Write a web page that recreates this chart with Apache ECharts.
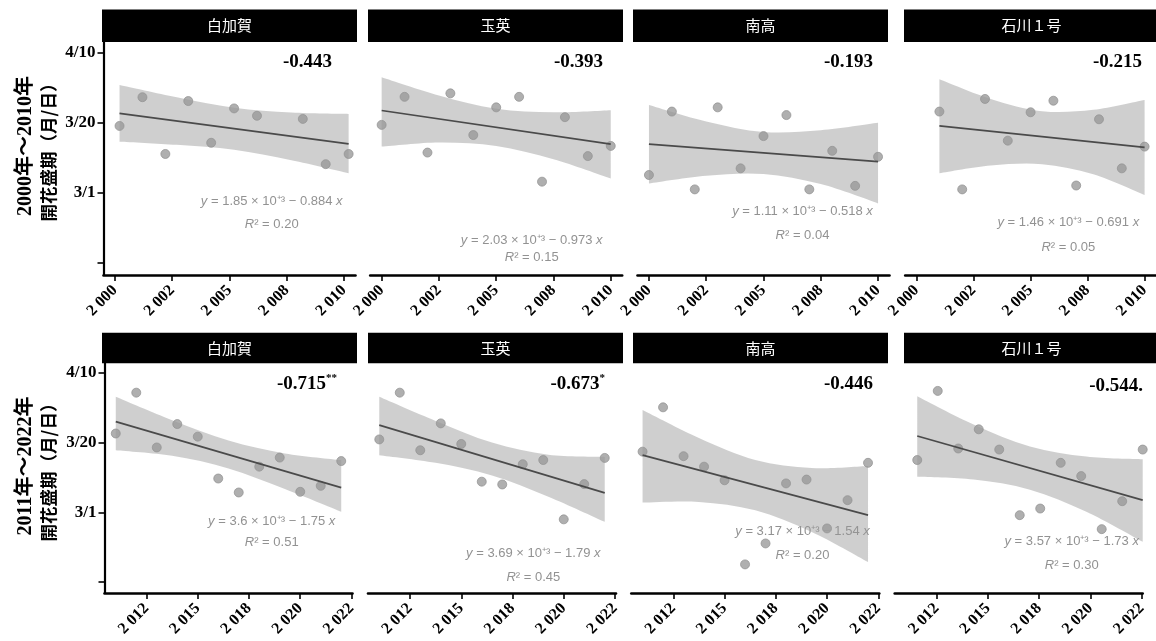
<!DOCTYPE html>
<html><head><meta charset="utf-8">
<script src="https://cdn.jsdelivr.net/npm/echarts@6/dist/echarts.min.js"></script>
<style>html,body{margin:0;padding:0;background:#fff}#c{width:1156px;height:641px}</style>
</head><body><div id="c"></div>
<script>
// ---------- labels ----------
const varieties = ['白加賀', '玉英', '南高', '石川１号'];
const periodTitles = ['2000年～2010年', '2011年～2022年'];
const yAxisSubtitle = '開花盛期（月/日）';
const yTickValues = [40, 60, 80, 100];
const yTickLabels = ['', '3/1', '3/20', '4/10'];
const xTickValuesEarly = [2000, 2002.5, 2005, 2007.5, 2010];
const xTickLabelsEarly = ['2 000', '2 002', '2 005', '2 008', '2 010'];
const xTickValuesLate = [2012.5, 2015, 2017.5, 2020, 2022.5];
const xTickLabelsLate = ['2 012', '2 015', '2 018', '2 020', '2 022'];

// ---------- 2000–2010 : points (x = year position, y = day of year) ----------
const xE_shirokaga = [2000.2, 2001.2, 2002.2, 2003.2, 2004.2, 2005.2, 2006.2, 2008.2, 2009.2, 2010.2];
const yE_shirokaga = [79.1, 87.3, 71.1, 86.2, 74.3, 84.1, 82.0, 81.1, 68.2, 71.1];
const xE_gyokuei = [2000, 2001, 2002, 2003, 2004, 2005, 2006, 2007, 2008, 2009, 2010];
const yE_gyokuei = [79.4, 87.4, 71.5, 88.4, 76.5, 84.4, 87.4, 63.2, 81.6, 70.5, 73.4];
const xE_nanko = [2000, 2001, 2002, 2003, 2004, 2005, 2006, 2007, 2008, 2009, 2010];
const yE_nanko = [65.1, 83.2, 61.0, 84.4, 67.0, 76.2, 82.2, 61.0, 72.0, 62.0, 70.3];
const xE_ishikawa = [2001, 2002, 2003, 2004, 2005, 2006, 2007, 2008, 2009, 2010];
const yE_ishikawa = [83.2, 61.0, 86.8, 74.9, 83.0, 86.3, 62.1, 81.0, 67.0, 73.2];

// ---------- 2011–2022 : points ----------
const xL_shirokaga = [2011, 2012, 2013, 2014, 2015, 2016, 2017, 2018, 2019, 2020, 2021, 2022];
const yL_shirokaga = [82.6, 94.3, 78.6, 85.3, 81.7, 69.7, 65.7, 73.1, 75.7, 65.9, 67.6, 74.7];
const xL_gyokuei = [2011, 2012, 2013, 2014, 2015, 2016, 2017, 2018, 2019, 2020, 2021, 2022];
const yL_gyokuei = [80.9, 94.3, 77.8, 85.5, 79.6, 68.8, 68.0, 73.8, 75.0, 58.0, 68.1, 75.6];
const xL_nanko = [2011, 2012, 2013, 2014, 2015, 2016, 2017, 2018, 2019, 2020, 2021, 2022];
const yL_nanko = [77.4, 90.1, 76.1, 73.1, 69.2, 45.1, 51.1, 68.3, 69.4, 55.4, 63.5, 74.2];
const xL_ishikawa = [2011.55, 2012.55, 2013.55, 2014.55, 2015.55, 2016.55, 2017.55, 2018.55, 2019.55, 2020.55, 2021.55, 2022.55];
const yL_ishikawa = [75.0, 94.8, 78.3, 83.8, 78.0, 59.2, 61.1, 74.2, 70.4, 55.2, 63.2, 78.0];

// ---------- fitted lines (end points) ----------
const fitXE_shirokaga = [2000.2, 2010.2], fitYE_shirokaga = [82.7, 74.0];
const fitXE_gyokuei = [2000, 2010], fitYE_gyokuei = [83.5, 73.9];
const fitXE_nanko = [2000, 2010], fitYE_nanko = [73.9, 68.9];
const fitXE_ishikawa = [2001, 2010], fitYE_ishikawa = [79.1, 73.0];
const fitXL_shirokaga = [2011, 2022], fitYL_shirokaga = [86.0, 67.1];
const fitXL_gyokuei = [2011, 2022], fitYL_gyokuei = [85.0, 65.6];
const fitXL_nanko = [2011, 2022], fitYL_nanko = [76.4, 59.2];
const fitXL_ishikawa = [2011.55, 2022.55], fitYL_ishikawa = [81.9, 63.5];

// ---------- confidence bands ----------
const bandXE_shirokaga = [2000.2, 2002.7, 2005.2, 2007.7, 2010.2];
const bandHiE_shirokaga = [90.8, 87.3, 84.3, 82.9, 82.5];
const bandLoE_shirokaga = [74.6, 73.7, 72.3, 69.3, 65.6];
const bandXE_gyokuei = [2000, 2002.5, 2005, 2007.5, 2010];
const bandHiE_gyokuei = [93.0, 87.8, 84.0, 83.0, 83.6];
const bandLoE_gyokuei = [73.2, 74.4, 73.4, 69.6, 64.1];
const bandXE_nanko = [2000, 2002.5, 2005, 2007.5, 2010];
const bandHiE_nanko = [85.1, 80.4, 77.4, 77.9, 80.0];
const bandLoE_nanko = [62.7, 64.9, 65.4, 62.5, 57.0];
const bandXE_ishikawa = [2001, 2003.25, 2005.5, 2007.75, 2010];
const bandHiE_ishikawa = [92.4, 86.8, 83.3, 83.7, 86.5];
const bandLoE_ishikawa = [65.6, 67.8, 68.2, 65.3, 59.4];
const bandXL_shirokaga = [2011, 2013.75, 2016.5, 2019.25, 2022];
const bandHiL_shirokaga = [93.1, 86.4, 80.6, 76.9, 75.0];
const bandLoL_shirokaga = [77.8, 76.2, 72.6, 66.7, 60.2];
const bandXL_gyokuei = [2011, 2013.75, 2016.5, 2019.25, 2022];
const bandHiL_gyokuei = [93.1, 86.2, 80.0, 76.5, 75.9];
const bandLoL_gyokuei = [76.4, 74.2, 70.6, 64.5, 57.3];
const bandXL_nanko = [2011, 2013.75, 2016.5, 2019.25, 2022];
const bandHiL_nanko = [89.3, 81.3, 75.0, 72.7, 73.3];
const bandLoL_nanko = [62.8, 63.0, 60.6, 54.4, 45.8];
const bandXL_ishikawa = [2011.55, 2014.3, 2017.05, 2019.8, 2022.55];
const bandHiL_ishikawa = [93.3, 85.2, 78.9, 76.0, 75.2];
const bandLoL_ishikawa = [70.2, 69.4, 66.5, 60.2, 51.6];

// ---------- annotation texts ----------
const corrValues = ['-0.443', '-0.393', '-0.193', '-0.215', '-0.715', '-0.673', '-0.446', '-0.544.'];
const corrStars = ['', '', '', '', '**', '*', '', ''];
const eqIntercepts = ['1.85', '2.03', '1.11', '1.46', '3.6', '3.69', '3.17', '3.57'];
const eqSlopes = ['0.884', '0.973', '0.518', '0.691', '1.75', '1.79', '1.54', '1.73'];
const r2Values = ['0.20', '0.15', '0.04', '0.05', '0.51', '0.45', '0.20', '0.30'];

// ---------- layout ----------
const rows = [
  { top: 42, height: 233, lefts: [103.5, 370.2, 637.5, 905.2], width: 252, xMin: 1999.5, xMax: 2010.5,
    yMin: 36.57, yMax: 103.05, ticks: xTickValuesEarly, labels: xTickLabelsEarly, headerTop: 9.5, headerH: 32.5, titleY: 146 },
  { top: 363, height: 230, lefts: [104.5, 368, 631.3, 894.7], width: 248, xMin: 2010.45, xMax: 2022.55,
    yMin: 36.9, yMax: 102.8, ticks: xTickValuesLate, labels: xTickLabelsLate, headerTop: 332.7, headerH: 30.6, titleY: 466 }
];
const headerLefts = [102, 368, 633, 904];
const headerWidth = 255;
const corrPos = [[332, 62], [603, 62], [873, 62], [1142, 62], [337, 384], [605, 384], [873, 384], [1143, 386]];
const eqPos = [[271.7, 201.7, 224], [531.7, 240, 257.3], [802.5, 211.7, 235], [1068.3, 222.7, 247.3],
               [271.7, 521.7, 542.7], [533.3, 553.3, 577.3], [802.5, 531.7, 555], [1071.7, 541.7, 565]];

const panelData = [
  [xE_shirokaga, yE_shirokaga, fitXE_shirokaga, fitYE_shirokaga, bandXE_shirokaga, bandHiE_shirokaga, bandLoE_shirokaga],
  [xE_gyokuei, yE_gyokuei, fitXE_gyokuei, fitYE_gyokuei, bandXE_gyokuei, bandHiE_gyokuei, bandLoE_gyokuei],
  [xE_nanko, yE_nanko, fitXE_nanko, fitYE_nanko, bandXE_nanko, bandHiE_nanko, bandLoE_nanko],
  [xE_ishikawa, yE_ishikawa, fitXE_ishikawa, fitYE_ishikawa, bandXE_ishikawa, bandHiE_ishikawa, bandLoE_ishikawa],
  [xL_shirokaga, yL_shirokaga, fitXL_shirokaga, fitYL_shirokaga, bandXL_shirokaga, bandHiL_shirokaga, bandLoL_shirokaga],
  [xL_gyokuei, yL_gyokuei, fitXL_gyokuei, fitYL_gyokuei, bandXL_gyokuei, bandHiL_gyokuei, bandLoL_gyokuei],
  [xL_nanko, yL_nanko, fitXL_nanko, fitYL_nanko, bandXL_nanko, bandHiL_nanko, bandLoL_nanko],
  [xL_ishikawa, yL_ishikawa, fitXL_ishikawa, fitYL_ishikawa, bandXL_ishikawa, bandHiL_ishikawa, bandLoL_ishikawa]
];

const SERIF = '"Liberation Serif","Times New Roman",serif';
const CJK = '"Noto Sans CJK JP"';
const SANS = '"Liberation Sans",Arial,sans-serif';

const grid = [], xAxis = [], yAxis = [], series = [], graphic = [];

function nearestLabel(vals, labs, v) {
  let best = 0;
  for (let k = 1; k < vals.length; k++) if (Math.abs(vals[k] - v) < Math.abs(vals[best] - v)) best = k;
  return labs[best];
}
// smooth (Catmull-Rom) path through pixel points
function smoothSeg(p) {
  let d = '';
  for (let k = 0; k < p.length - 1; k++) {
    const p0 = p[Math.max(k - 1, 0)], p1 = p[k], p2 = p[k + 1], p3 = p[Math.min(k + 2, p.length - 1)];
    const c1 = [p1[0] + (p2[0] - p0[0]) / 6, p1[1] + (p2[1] - p0[1]) / 6];
    const c2 = [p2[0] - (p3[0] - p1[0]) / 6, p2[1] - (p3[1] - p1[1]) / 6];
    d += ' C' + c1[0] + ',' + c1[1] + ' ' + c2[0] + ',' + c2[1] + ' ' + p2[0] + ',' + p2[1];
  }
  return d;
}

for (let r = 0; r < 2; r++) {
  const L = rows[r];
  for (let c = 0; c < 4; c++) {
    const i = r * 4 + c;
    const [px, py, fx, fy, bx, bhi, blo] = panelData[i];
    grid.push({ left: L.lefts[c], top: L.top, width: L.width, height: L.height, containLabel: false });
    xAxis.push({
      type: 'value', gridIndex: i, min: L.xMin, max: L.xMax,
      axisLine: { show: true, onZero: false, lineStyle: { color: '#000', width: 2.6 } },
      axisTick: { show: true, customValues: L.ticks, length: 6, lineStyle: { color: '#000', width: 1.6 } },
      axisLabel: { show: true, customValues: L.ticks, rotate: 45, margin: 13, color: '#000',
        fontFamily: SERIF, fontWeight: 'bold', fontSize: 16,
        formatter: (v) => nearestLabel(L.ticks, L.labels, v) },
      splitLine: { show: false }
    });
    const showY = c === 0;
    yAxis.push({
      type: 'value', gridIndex: i, min: L.yMin, max: L.yMax,
      axisLine: { show: showY, onZero: false, lineStyle: { color: '#000', width: 2.2 } },
      axisTick: { show: showY, customValues: yTickValues, length: 6, lineStyle: { color: '#000', width: 1.6 } },
      axisLabel: { show: showY, customValues: yTickValues, margin: 8, color: '#000',
        fontFamily: SERIF, fontWeight: 'bold', fontSize: 17,
        formatter: (v) => nearestLabel(yTickValues, yTickLabels, v) },
      splitLine: { show: false }
    });
    series.push({
      type: 'scatter', xAxisIndex: i, yAxisIndex: i, z: 2,
      symbolSize: 9,
      itemStyle: { color: '#a6a6a6', borderColor: '#909090', borderWidth: 0.8, opacity: 0.9 },
      data: px.map((x, k) => [x, py[k]])
    });
    series.push({
      type: 'custom', xAxisIndex: i, yAxisIndex: i, z: 3, clip: true,
      data: bx.map((x, k) => [x, blo[k], bhi[k]]),
      encode: { x: 0, y: [1, 2] },
      renderItem: (params, api) => {
        if (params.dataIndex !== 0) return null;
        const up = bx.map((x, k) => api.coord([x, bhi[k]]));
        const dn = bx.map((x, k) => api.coord([x, blo[k]])).reverse();
        const d = 'M' + up[0][0] + ',' + up[0][1] + smoothSeg(up) +
                  ' L' + dn[0][0] + ',' + dn[0][1] + smoothSeg(dn) + ' Z';
        return { type: 'path', shape: { pathData: d }, style: { fill: 'rgba(150,150,150,0.46)' } };
      }
    });
    series.push({
      type: 'line', xAxisIndex: i, yAxisIndex: i, z: 4, showSymbol: false, silent: true,
      lineStyle: { color: '#4a4a4a', width: 1.7 },
      data: fx.map((x, k) => [x, fy[k]])
    });

    // header strip
    graphic.push({ type: 'rect', z: 1, shape: { x: headerLefts[c], y: L.headerTop, width: headerWidth, height: L.headerH },
      style: { fill: '#000' } });
    graphic.push({ type: 'text', z: 2, x: headerLefts[c] + headerWidth / 2, y: L.headerTop + L.headerH / 2,
      style: { text: varieties[c], fill: '#fff', font: '15px ' + CJK, textAlign: 'center', textVerticalAlign: 'middle' } });

    // correlation label
    graphic.push({ type: 'text', z: 1, x: corrPos[i][0], y: corrPos[i][1],
      style: { text: '{m|' + corrValues[i] + '}' + (corrStars[i] ? '{s|' + corrStars[i] + '}' : ''),
        textAlign: 'right', textVerticalAlign: 'middle', fill: '#000',
        rich: { m: { font: 'bold 19px ' + SERIF, fill: '#000', lineHeight: 22 },
                s: { font: 'bold 11px ' + SERIF, fill: '#000', verticalAlign: 'top', lineHeight: 22 } } } });
    // equation and R2
    graphic.push({ type: 'text', z: 1, x: eqPos[i][0], y: eqPos[i][1],
      style: { text: '{i|y} = ' + eqIntercepts[i] + ' × 10⁺³ − ' + eqSlopes[i] + ' {i|x}',
        textAlign: 'center', textVerticalAlign: 'middle', fill: '#929292', font: '13px ' + SANS,
        rich: { i: { font: 'italic 13px ' + SANS, fill: '#929292' } } } });
    graphic.push({ type: 'text', z: 1, x: eqPos[i][0], y: eqPos[i][2],
      style: { text: '{i|R}² = ' + r2Values[i],
        textAlign: 'center', textVerticalAlign: 'middle', fill: '#929292', font: '13px ' + SANS,
        rich: { i: { font: 'italic 13px ' + SANS, fill: '#929292' } } } });
  }
  // row y-axis title (two lines, rotated)
  graphic.push({ type: 'text', x: 25.5, y: L.titleY, rotation: Math.PI / 2,
    style: { text: periodTitles[r], fill: '#000', font: 'bold 20px ' + SERIF + ',' + CJK, textAlign: 'center', textVerticalAlign: 'middle' } });
  graphic.push({ type: 'text', x: 48.5, y: L.titleY + 2, rotation: Math.PI / 2,
    style: { text: yAxisSubtitle, fill: '#000', font: 'bold 17.5px ' + CJK, textAlign: 'center', textVerticalAlign: 'middle' } });
}

const chart = echarts.init(document.getElementById('c'), null, { renderer: 'canvas', width: 1156, height: 641 });
chart.setOption({ animation: false, backgroundColor: '#fff', grid, xAxis, yAxis, series, graphic });
</script>
</body></html>
